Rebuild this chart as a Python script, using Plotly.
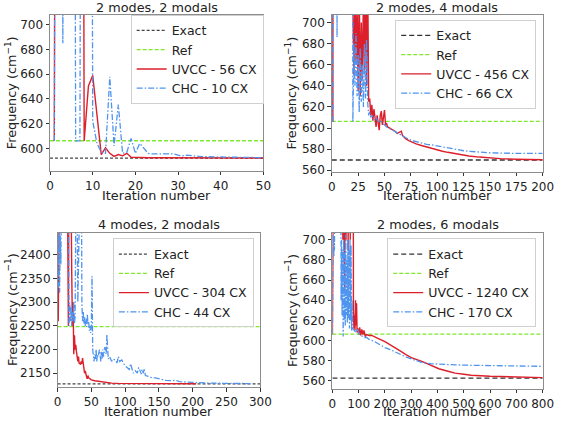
import plotly.graph_objects as go

FONT = "DejaVu Sans"

# ---------------- data ----------------
titles = ["2 modes, 2 modals", "2 modes, 4 modals", "4 modes, 2 modals", "2 modes, 6 modals"]
uvcc_labels = ["UVCC - 56 CX", "UVCC - 456 CX", "UVCC - 304 CX", "UVCC - 1240 CX"]
chc_labels = ["CHC - 10 CX", "CHC - 66 CX", "CHC - 44 CX", "CHC - 170 CX"]
exact_vals = [592.1, 569.7, 2127.5, 562.6]
ref_vals = [606.2, 606.3, 2248.5, 606.4]
x_max = [50, 200, 300, 800]

# panel 1: 2 modes, 2 modals
p1_iter = [1, 2, 3, 4, 5, 6, 7, 8, 9, 10, 11, 12, 13, 14, 15, 16, 17, 18, 19, 20,
           21, 22, 23, 24, 25, 26, 27, 28, 29, 30, 31, 32, 33, 34, 35, 36, 37, 38, 39, 40,
           41, 42, 43, 44, 45, 46, 47, 48, 49, 50]
p1_uvcc = [606, 2000, 2000, 2000, 2000, 2000, 2000, 606, 650.5, 659, 625, 595, 600.5, 596, 593.5, 595, 594, 596, 592.8, 592.6,
           592.5, 592.5, 592.4, 592.4, 592.4, 592.3, 592.3, 592.3, 592.3, 592.3, 592.2, 592.2, 592.2, 592.2, 592.2, 592.2, 592.2, 592.2, 592.2, 592.2,
           592.2, 592.2, 592.2, 592.2, 592.2, 592.2, 592.2, 592.2, 592.2, 592.2]
p1_chc = [606, 2000, 685, 2000, 2000, 606, 606, 2000, 2000, 622, 604, 597, 596, 658, 602, 635.5, 596, 597, 608, 596,
          604, 600, 596, 595.5, 595.5, 595, 595.5, 595, 595.5, 594.5, 594, 594.5, 594, 594, 593.5, 593.3, 593.2, 593.2, 593.1, 593,
          593, 592.9, 592.8, 592.8, 592.7, 592.7, 592.6, 592.6, 592.5, 592.5]

# panel 2: 2 modes, 4 modals
p2_uvcc_x = [1, 2, 19, 20, 21, 22, 23, 24, 25, 26, 27, 28, 29, 30, 31, 32, 33, 34, 35, 36, 37, 38, 39, 40,
             41, 42, 43, 44, 45, 46, 47, 48, 49, 50, 51, 52, 53, 55, 58, 60, 62, 64, 66, 67, 70, 73, 75, 78, 80,
             85, 90, 95, 100, 105, 110, 115, 120, 125, 130, 140, 150, 160, 175, 200]
p2_uvcc_y = [606, 2000, 2000, 720, 650, 730, 660, 720, 635, 740, 630, 700, 645, 725, 655, 740, 640, 750, 625, 628, 612, 622, 607, 618,
             610, 601, 612, 606, 598, 612, 616, 603, 611, 617, 603, 604, 601, 600, 598, 597, 595, 596, 597, 593, 590, 588, 587, 585.5, 585,
             583.5, 582, 580.5, 579, 578, 577, 576, 575, 574, 573.5, 572.5, 571.5, 571, 570.5, 570]
p2_chc_x = [1, 2, 4, 5, 6, 19, 20, 21, 22, 23, 24, 25, 26, 27, 28, 29, 30, 31, 32, 33, 34, 35, 36, 37, 38, 40, 42, 44, 46, 48,
            50, 52, 55, 60, 65, 70, 75, 80, 85, 90, 95, 100, 105, 110, 115, 120, 125, 130, 140, 150, 175, 200]
p2_chc_y = [606, 2000, 2000, 686, 2000, 2000, 606, 680, 640, 690, 630, 670, 615, 676, 625, 660, 620, 680, 628, 684, 625, 612, 616, 610, 612, 608, 610, 606, 607, 605,
            603, 601, 599.5, 596.5, 593.5, 591, 588.5, 587, 585.5, 584.5, 584, 583, 582, 581, 580, 579, 578.5, 578, 577, 576.5, 576, 576]

# panel 3: 4 modes, 2 modals
p3_uvcc_x = [1, 2, 3, 14, 16, 17, 19, 20, 21, 22, 23, 24, 25, 26, 27, 28, 29, 30, 31, 32, 33, 34, 35, 36, 37, 38, 39, 40,
             41, 42, 43, 44, 45, 46, 48, 50, 55, 60, 65, 70, 75, 80, 90, 100, 150, 205]
p3_uvcc_y = [2260, 2400, 2700, 2700, 2250, 2700, 2700, 2370, 2360, 2250, 2300, 2190, 2230, 2200, 2210, 2195, 2180, 2175, 2185, 2170, 2172, 2168, 2175, 2170, 2182, 2165, 2160, 2150,
             2155, 2145, 2142, 2138, 2145, 2140, 2138, 2136, 2134, 2133, 2131.5, 2131, 2130, 2129, 2128.5, 2128.3, 2128, 2127.8]
p3_chc_x = [1, 2, 3, 4, 5, 6, 16, 17, 18, 19, 20, 21, 22, 23, 24, 25, 26, 27, 28, 30, 31, 35, 36, 37, 38, 39, 40, 41, 42, 43, 44, 45,
            46, 47, 48, 49, 50, 51, 52, 53, 54, 55, 56, 57, 58, 59, 60, 62, 63, 64, 65, 66, 67, 68, 70, 72, 73, 74, 75, 77, 80, 82, 85,
            88, 90, 92, 95, 98, 100, 103, 106, 108, 110, 112, 115, 118, 120, 122, 124, 125, 127, 128, 130, 135, 140, 145, 150, 155, 160,
            170, 175, 180, 190, 200, 210, 225, 250, 285]
p3_chc_y = [2330, 2460, 2320, 2440, 2380, 2700, 2700, 2250, 2300, 2260, 2290, 2250, 2280, 2260, 2300, 2255, 2270, 2700, 2700, 2300, 2700, 2700, 2300, 2260, 2280, 2255, 2270, 2250, 2265, 2248, 2275, 2255,
            2260, 2240, 2250, 2235, 2250, 2355, 2200, 2180, 2175, 2190, 2180, 2200, 2175, 2190, 2185, 2200, 2185, 2175, 2195, 2180, 2200, 2185, 2205, 2190, 2232, 2185, 2180, 2185, 2175, 2180, 2178,
            2172, 2185, 2175, 2178, 2170, 2165, 2162, 2158, 2170, 2160, 2150, 2155, 2150, 2162, 2155, 2148, 2158, 2150, 2160, 2145, 2143, 2140, 2140, 2138, 2137, 2135,
            2134, 2135, 2132, 2131, 2130, 2130, 2129, 2128.5, 2128]

# panel 4: 2 modes, 6 modals
p4_uvcc_x = [0, 1, 2, 3, 38, 40, 42, 45, 47, 49, 52, 55, 60, 63, 68, 72, 76, 80, 82, 84, 86, 88, 90, 92, 94, 97, 100, 104, 108,
             112, 116, 120, 125, 130, 140, 150, 160, 175, 200, 220, 250, 280, 300, 343, 375, 405, 440, 467, 500, 528, 600, 652, 700, 800]
p4_uvcc_y = [606, 650, 700, 2000, 2000, 700, 2000, 680, 651, 2000, 700, 2000, 690, 2000, 700, 2000, 2000, 630, 612, 625, 610, 640, 615, 637, 608, 612, 606, 613, 605,
             611, 606, 610, 604, 606, 605, 605, 604, 602, 599, 596, 591, 586, 583, 579, 575, 572, 569.5, 567.6, 566.5, 565.5, 564.5, 564, 563.7, 563.2]
p4_chc_x = [0, 1, 2, 3, 4, 5, 6, 7, 8, 10, 30, 33, 35, 37, 39, 41, 43, 45, 47, 49, 51, 53, 55, 57, 59, 61, 63, 65, 67, 69, 71, 73, 75, 77,
            80, 85, 90, 96, 100, 110, 120, 130, 140, 158, 180, 200, 220, 250, 281, 306, 343, 375, 405, 450, 528, 600, 700, 800]
p4_chc_y = [606, 700, 685, 705, 690, 700, 683, 702, 690, 2000, 2000, 640, 700, 625, 690, 604, 700, 620, 690, 615, 705, 625, 680, 618, 700, 622, 690, 612, 700, 620, 695, 610, 640, 612,
            611, 610, 608, 612, 607, 605, 603, 603, 601, 599.3, 596, 593, 591, 587, 583.6, 581.3, 578, 577, 576.4, 576, 575.4, 575, 574.8, 574.4]

# ---------------- styling ----------------
RED = "#dc1f2b"
BLUE = "#4f94ef"
GREEN = "#7fe82c"
exact_colors = ["#444444", "#333333", "#444444", "#333333"]
exact_dash = ["3px,2px", "5px,3px", "3px,2px", "5px,3px"]

x_domains = [[0.0834, 0.4700], [0.5938, 0.9758], [0.0970, 0.4644], [0.5949, 0.9758]]
y_domains = [[0.5927, 0.9646], [0.5896, 0.9646], [0.0755, 0.4450], [0.0719, 0.4450]]
y_ranges = [[582, 708], [558.4, 707.2], [2120, 2447.5], [552, 707.2]]
x_dticks = [10, 25, 50, 100]
y_dticks = [20, 20, 50, 20]
legend_pos = [(0.4704, 0.9646), (0.9642, 0.9528), (0.4527, 0.4309), (0.9642, 0.4309)]
title_y = [0.9828, 0.9828, 0.4646, 0.4646]
xlabel_y = [1 - 197.8 / 424, 1 - 197.8 / 424, 1 - 416.6 / 424, 1 - 416.6 / 424]
ylabel_x = [6.7 / 567, 295 / 567, 7.3 / 567, 295 / 567]

series = [
    (p1_iter, p1_uvcc, p1_iter, p1_chc),
    (p2_uvcc_x, p2_uvcc_y, p2_chc_x, p2_chc_y),
    (p3_uvcc_x, p3_uvcc_y, p3_chc_x, p3_chc_y),
    (p4_uvcc_x, p4_uvcc_y, p4_chc_x, p4_chc_y),
]

fig = go.Figure()
layout = dict(
    width=567, height=424,
    margin=dict(l=0, r=0, t=0, b=0),
    paper_bgcolor="white", plot_bgcolor="white",
    font=dict(family=FONT, size=12, color="#222222"),
    showlegend=True,
    annotations=[],
)

for i in range(4):
    sfx = "" if i == 0 else str(i + 1)
    xa, ya = "x" + sfx, "y" + sfx
    lg = "legend" if i == 0 else "legend" + str(i + 1)
    ux, uy, cx, cy = series[i]
    fig.add_trace(go.Scatter(x=[0, x_max[i]], y=[exact_vals[i], exact_vals[i]], mode="lines",
                             name="Exact", line=dict(color=exact_colors[i], width=1.3, dash=exact_dash[i]),
                             xaxis=xa, yaxis=ya, legend=lg))
    fig.add_trace(go.Scatter(x=[0, x_max[i]], y=[ref_vals[i], ref_vals[i]], mode="lines",
                             name="Ref", line=dict(color=GREEN, width=1.3, dash="4px,2px"),
                             xaxis=xa, yaxis=ya, legend=lg))
    fig.add_trace(go.Scatter(x=ux, y=uy, mode="lines", name=uvcc_labels[i],
                             line=dict(color=RED, width=1.4), xaxis=xa, yaxis=ya, legend=lg))
    fig.add_trace(go.Scatter(x=cx, y=cy, mode="lines", name=chc_labels[i],
                             line=dict(color=BLUE, width=1.3, dash="6px,2px,1.5px,2px"),
                             xaxis=xa, yaxis=ya, legend=lg))

    axis_common = dict(showline=True, mirror=True, linecolor="#8c8c8c", linewidth=1,
                       ticks="outside", ticklen=3.5, tickwidth=1, tickcolor="#333333",
                       tickfont=dict(family=FONT, size=12, color="#222222"),
                       showgrid=False, zeroline=False)
    layout["xaxis" + sfx] = dict(axis_common, domain=x_domains[i], range=[0, x_max[i]],
                                 tick0=0, dtick=x_dticks[i], anchor=ya)
    layout["yaxis" + sfx] = dict(axis_common, domain=y_domains[i], range=y_ranges[i],
                                 tick0=0, dtick=y_dticks[i], anchor=xa)
    layout[lg] = dict(x=legend_pos[i][0], y=legend_pos[i][1], xanchor="right", yanchor="top",
                      xref="paper", yref="paper", bgcolor="rgba(255,255,255,0.85)",
                      bordercolor="#d0d0d0", borderwidth=1,
                      font=dict(family=FONT, size=12.5, color="#222222"),
                      tracegroupgap=0, itemwidth=30)
    xc = (x_domains[i][0] + x_domains[i][1]) / 2
    yc = (y_domains[i][0] + y_domains[i][1]) / 2
    layout["annotations"].append(dict(text=titles[i], x=xc, y=title_y[i], xref="paper", yref="paper",
                                      xanchor="center", yanchor="middle", showarrow=False,
                                      font=dict(family=FONT, size=12.8, color="#222222")))
    layout["annotations"].append(dict(text="Iteration number", x=xc, y=xlabel_y[i], xref="paper", yref="paper",
                                      xanchor="center", yanchor="middle", showarrow=False,
                                      font=dict(family=FONT, size=12.8, color="#222222")))
    layout["annotations"].append(dict(text="Frequency (cm<sup>−1</sup>)", x=ylabel_x[i], y=yc,
                                      xref="paper", yref="paper", xanchor="center", yanchor="middle",
                                      textangle=-90, showarrow=False,
                                      font=dict(family=FONT, size=12.8, color="#222222")))

fig.update_layout(**layout)
fig.write_html("out.html", config={"displayModeBar": False},
               post_script="document.body.style.margin='0px';document.body.style.overflow='hidden';")
